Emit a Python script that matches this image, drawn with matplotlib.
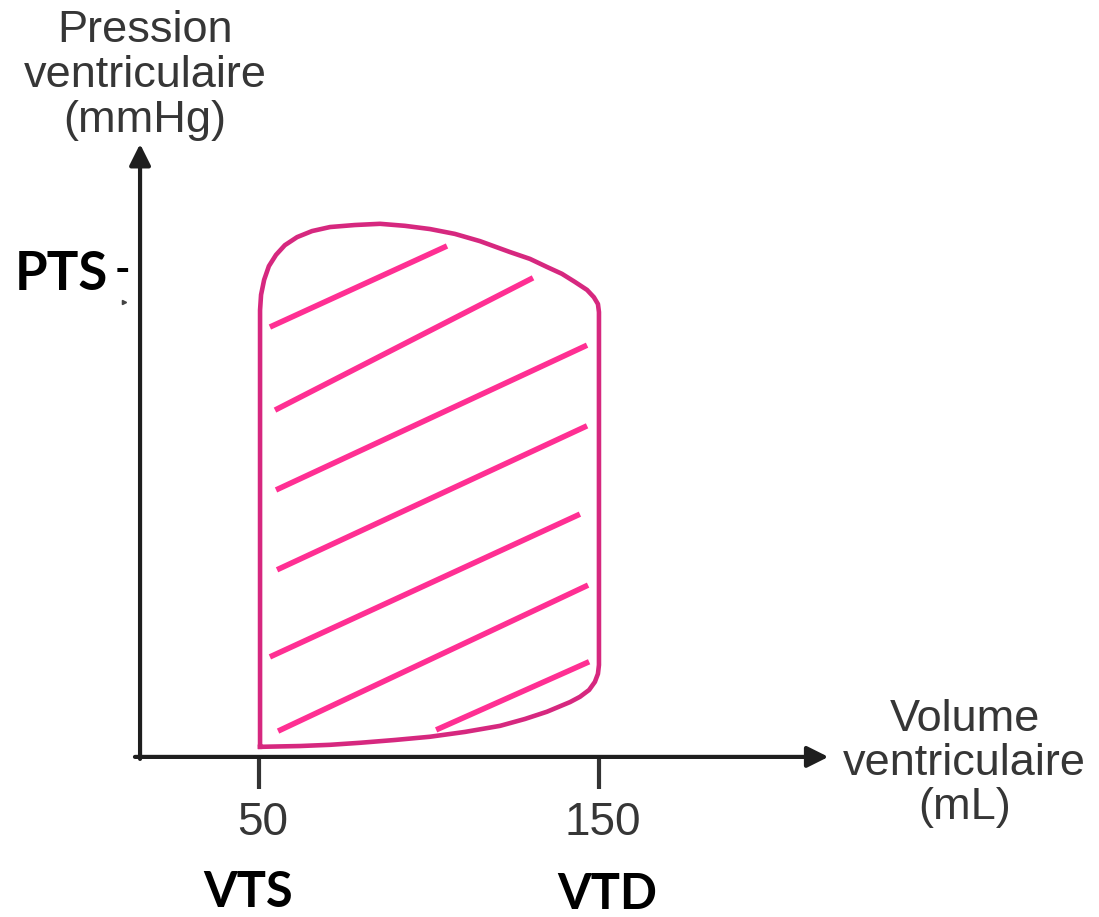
import matplotlib.pyplot as plt

# Pressure-volume loop (volume in mL, pressure in mmHg)
loop_vol = [50.3, 50.3, 50.6, 51.5, 52.9, 55.0, 57.6, 61.2, 65.6, 70.9, 78.2, 85.6,
            92.9, 100.3, 107.6, 115.0, 123.8, 129.7, 134.7, 139.1, 142.9, 146.5,
            148.5, 149.7, 150.0,
            150.0, 149.7, 148.8, 147.1, 144.4, 141.5, 134.7, 128.2, 120.9, 110.6,
            100.3, 90.0, 79.7, 70.9, 62.1, 50.3]
loop_pres = [2.5, 110.8, 114.6, 118.3, 121.7, 124.5, 126.9, 128.9, 130.4, 131.4, 131.9, 132.2,
             131.7, 130.9, 129.7, 127.9, 125.2, 123.5, 121.5, 119.8, 117.8, 115.8,
             114.0, 112.3, 110.3,
             22.8, 20.6, 18.6, 16.6, 14.9, 13.6, 11.2, 9.4, 7.7, 6.2,
             5.0, 4.2, 3.5, 3.0, 2.7, 2.5]

# hatch strokes inside the loop: (vol0, pres0, vol1, pres1)
hatch_lines = [
    (53.2, 106.6, 105.3, 126.7),
    (54.7, 86.0, 130.6, 118.8),
    (55.0, 66.2, 146.5, 102.1),
    (55.3, 46.4, 146.5, 82.1),
    (53.2, 24.8, 144.4, 60.2),
    (55.6, 6.4, 146.8, 42.6),
    (102.1, 6.7, 147.1, 23.6),
]

x_ticks = [50, 150]
x_tick_labels = ["50", "150"]
x_names = ["VTS", "VTD"]
pts_value = 120

loop_color = "#d6287f"
hatch_color = "#ff2f93"
axis_color = "#1e1e1e"
label_color = "#363636"

fig = plt.figure(figsize=(10.99, 9.17), dpi=100)
ax = fig.add_axes([0, 0, 1, 1])
ax.set_xlim(-26.2, 297.1)
ax.set_ylim(-39.7, 187.7)
ax.axis("off")

# axes with arrows
ax.annotate("", xy=(15, 152), xytext=(15, -0.5),
            arrowprops=dict(arrowstyle="-|>", color=axis_color, lw=3,
                            mutation_scale=32, shrinkA=0, shrinkB=0))
ax.annotate("", xy=(217.5, 0), xytext=(13.5, 0),
            arrowprops=dict(arrowstyle="-|>", color=axis_color, lw=3,
                            mutation_scale=32, shrinkA=0, shrinkB=0))

# ticks on the volume axis
for xt in x_ticks:
    ax.plot([xt, xt], [-0.5, -8.0], color="#333333", lw=3, solid_capstyle="butt")

# loop
ax.plot(loop_vol, loop_pres, color=loop_color, lw=3.3, solid_joinstyle="round")

# hatching
for v0, p0, v1, p1 in hatch_lines:
    ax.plot([v0, v1], [p0, p1], color=hatch_color, lw=4, solid_capstyle="butt")

# axis titles
ax.text(16.5, 169.0, "Pression\nventriculaire\n(mmHg)", ha="center", va="center",
        fontsize=32.5, family="Liberation Sans", color=label_color, linespacing=1.13)
ax.text(257.6, -1.6, "Volume\nventriculaire\n(mL)", ha="center", va="center",
        fontsize=32.5, family="Liberation Sans", color=label_color, linespacing=1.1)

for xt, lab, name, base in zip(x_ticks, x_tick_labels, x_names, [-37.2, -37.6]):
    ax.text(xt + 1, -16.4, lab, ha="center", va="center", fontsize=33,
            family="Liberation Sans", color=label_color)
    ax.text(xt - 3.2 + (xt - 50) * 0.055, base, name, ha="center", va="baseline",
            fontsize=35, family="Lato", weight="bold", color="black")

# PTS label on pressure axis
ax.text(-8.2, 115.8, "PTS", ha="center", va="baseline", fontsize=38,
        family="Lato", weight="bold", color="black")
ax.text(9.9, pts_value + 0.5, "-", ha="center", va="center", fontsize=30,
        family="Lato", weight="bold", color="black")
ax.plot([10.3], [112.8], marker=">", ms=3, color="#444444")

fig.savefig("out.png", dpi=100)
